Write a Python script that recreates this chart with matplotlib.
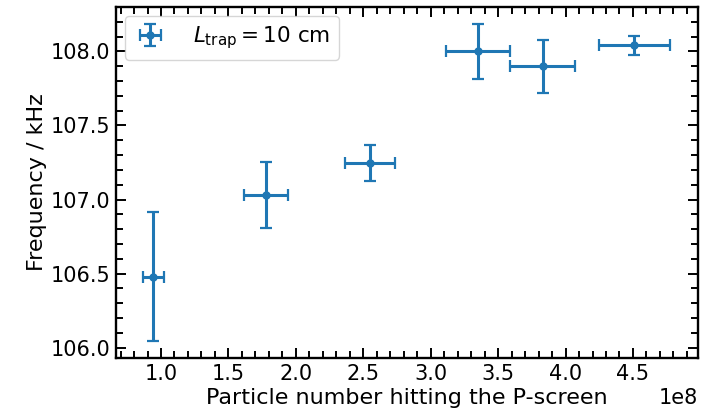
import numpy as np
import matplotlib
matplotlib.use("Agg")
import matplotlib.pyplot as plt
from matplotlib.ticker import MultipleLocator

# particle number (in units of 1e8) and frequency in kHz
particles = np.array([0.943, 1.782, 2.549, 3.35, 3.83, 4.51])
particles_err = np.array([0.077, 0.163, 0.184, 0.235, 0.24, 0.265])
freq = np.array([106.48, 107.03, 107.245, 108.0, 107.90, 108.04])
freq_err = np.array([0.435, 0.222, 0.12, 0.185, 0.18, 0.065])

fig = plt.figure(figsize=(7.15, 4.11), dpi=100)
ax = fig.add_axes([0.1622, 0.129, 0.8136, 0.854])

ax.errorbar(particles * 1e8, freq, xerr=particles_err * 1e8, yerr=freq_err,
            fmt="o", color="#1f77b4", markersize=5, elinewidth=2.2,
            capsize=4, capthick=1.6, label=r"$L_{\rm trap} = 10$ cm")

ax.set_xlim(0.666e8, 4.98e8)
ax.set_ylim(105.93, 108.30)

ax.xaxis.set_major_locator(MultipleLocator(0.5e8))
ax.xaxis.set_minor_locator(MultipleLocator(0.1e8))
ax.yaxis.set_major_locator(MultipleLocator(0.5))
ax.yaxis.set_minor_locator(MultipleLocator(0.1))
ax.yaxis.set_major_formatter(matplotlib.ticker.FormatStrFormatter("%.1f"))

ax.tick_params(which="both", direction="in", top=True, right=True,
               labelsize=15, width=1.4)
ax.tick_params(which="major", length=7.2, pad=4)
ax.tick_params(which="minor", length=4.8)
for s in ax.spines.values():
    s.set_linewidth(1.7)
ax.xaxis.get_offset_text().set_fontsize(15)

ax.set_xlabel("Particle number hitting the P-screen", fontsize=16, labelpad=3)
ax.set_ylabel("Frequency / kHz", fontsize=16, labelpad=3)

ax.legend(loc="upper left", fontsize=15.5, handlelength=1.6,
          handletextpad=1.2, borderaxespad=0.4)

fig.savefig("out.png", dpi=100)
